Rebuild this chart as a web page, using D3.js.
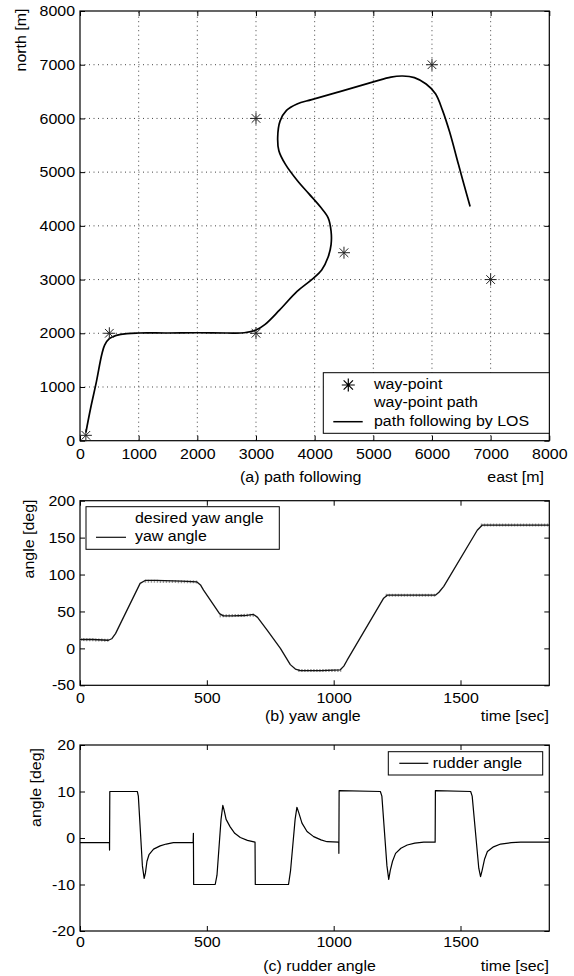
<!DOCTYPE html>
<html>
<head>
<meta charset="utf-8">
<script src="https://cdn.jsdelivr.net/npm/d3@7"></script>
<style>
    body { margin: 0; background: #fff; }
    svg text { font-family: "Liberation Sans", Arial, sans-serif; font-size: 14.5px; fill: #000; }
</style>
</head>
<body>
<svg id="chart" width="574" height="976"></svg>
<script>

// (a) path following - way-points and LOS track [m]
var wpEast = [100, 500, 3000, 4500, 3000, 6000, 7000];
var wpNorth = [100, 2000, 2000, 3500, 6000, 7000, 3000];

var pathEast = [100, 180, 280, 370, 420, 500, 620, 800, 1000, 1500, 2000, 2500, 2800, 3000, 3150, 3400, 3700, 3950, 4120, 4230,
    4280, 4280, 4230, 4100, 3900, 3700, 3500, 3390, 3370, 3410, 3520, 3700, 3950, 4400, 5000, 5300, 5500, 5700, 5900, 6060,
    6180, 6300, 6450, 6550, 6650];
var pathNorth = [150, 600, 1100, 1600, 1780, 1900, 1960, 1995, 2005, 2005, 2010, 2005, 2010, 2060, 2160, 2430, 2780, 3000, 3180, 3420,
    3650, 3900, 4150, 4350, 4600, 4850, 5150, 5400, 5650, 5950, 6150, 6270, 6350, 6490, 6680, 6770, 6790, 6760, 6640, 6460,
    6150, 5750, 5150, 4750, 4360];

var pathTicks = [0, 1000, 2000, 3000, 4000, 5000, 6000, 7000, 8000];

// (b) yaw angle [deg] vs time [sec]
var yawT = [0, 50, 112, 125, 140, 237, 257, 300, 400, 461, 475, 487, 550, 565, 600, 650, 684, 700, 737, 790,
    829, 849, 869, 950, 1026, 1040, 1053, 1197, 1211, 1300, 1401, 1415, 1434, 1566, 1586, 1700, 1850];
var yawDeg = [12, 12, 11, 13, 20, 88, 92, 92, 91, 90, 86, 79, 47, 44, 44, 44.5, 46, 42, 25, 0,
    -22, -28, -30, -30, -29, -24, -16, 68, 72, 72, 72, 76, 84, 160, 167, 167, 167];

var desT = [0, 115, null, 255, 465, null, 550, 690, null, 860, 1030, null, 1205, 1400, null, 1580, 1850];
var desDeg = [12, 11, null, 91, 90, null, 44, 45, null, -30, -30, null, 72, 72, null, 167, 167];

var yawTicks = [-50, 0, 50, 100, 150, 200];

// (c) rudder angle [deg] vs time [sec]
var rudT = [0, 116, 116.5, 117.5, 226, 230, 246, 253, 258, 264, 272, 290, 316, 340, 368, 446, 447, 448, 533, 540,
    556, 563, 568, 576, 592, 610, 632, 660, 690, 691, 822, 830, 848, 855, 862, 875, 895, 921, 950, 974,
    1020, 1020.5, 1021.5, 1184, 1190, 1210, 1217, 1223, 1232, 1244, 1265, 1290, 1320, 1355, 1400, 1401, 1540, 1546, 1572, 1579,
    1585, 1595, 1606, 1630, 1658, 1700, 1737, 1850];
var rudDeg = [-1, -1, -2.6, 10, 10, 9, -6, -8.7, -7.5, -5, -3.6, -2.4, -1.7, -1.3, -1, -1, 1, -10, -10, -8,
    4, 7, 6, 4, 2.4, 1, 0.1, -0.5, -0.9, -10, -10, -7, 4, 6.6, 5.5, 3.2, 1.4, 0.3, -0.4, -0.8,
    -0.9, -3.3, 10.2, 10, 9, -6, -8.9, -7, -5, -3.3, -2.2, -1.5, -1.1, -0.9, -0.9, 10.2, 10, 9, -6.5, -8.3,
    -7, -4.5, -2.9, -1.9, -1.3, -1, -0.9, -0.9];

var rudTicks = [-20, -10, 0, 10, 20];
var timeTicks = [0, 500, 1000, 1500];

var SX = 1.1; // the scanned lettering is a bit wider than Arial

var svg = d3.select("#chart");

function zip(a, b) {
    var out = [];
    for (var i = 0; i < a.length; i++) {
        out.push([a[i], b[i]]);
    }
    return out;
}

function star(cx, cy, r) {
    var d = r * 0.72;
    return "M" + (cx - r) + "," + cy + "h" + (2 * r) +
        "M" + cx + "," + (cy - r) + "v" + (2 * r) +
        "M" + (cx - d) + "," + (cy - d) + "l" + (2 * d) + "," + (2 * d) +
        "M" + (cx - d) + "," + (cy + d) + "l" + (2 * d) + "," + (-2 * d);
}

function drawAxes(x, y, xt, yt, grid, labOff) {
    var x0 = x.range()[0], x1 = x.range()[1];
    var y0 = y.range()[0], y1 = y.range()[1];
    var fmt = function (d) { return String(d); };

    if (grid) {
        svg.append("g").selectAll("line").data(xt.slice(1, -1)).enter().append("line")
            .attr("x1", function (d) { return x(d); })
            .attr("x2", function (d) { return x(d); })
            .attr("y1", y0).attr("y2", y1)
            .attr("stroke", "#444").attr("stroke-dasharray", "1,3.5");
        svg.append("g").selectAll("line").data(yt.slice(1, -1)).enter().append("line")
            .attr("y1", function (d) { return y(d); })
            .attr("y2", function (d) { return y(d); })
            .attr("x1", x0).attr("x2", x1)
            .attr("stroke", "#444").attr("stroke-dasharray", "1,3.5");
    }

    var gb = svg.append("g").attr("class", "xax").attr("transform", "translate(0," + y0 + ")")
        .call(d3.axisBottom(x).tickValues(xt).tickSize(-5).tickSizeOuter(0).tickFormat(fmt));
    gb.select(".domain").remove();
    gb.selectAll("text").attr("y", labOff).attr("dy", null);

    var gt = svg.append("g").attr("transform", "translate(0," + y1 + ")")
        .call(d3.axisTop(x).tickValues(xt).tickSize(-5).tickSizeOuter(0).tickFormat(""));
    gt.select(".domain").remove();

    var gl = svg.append("g").attr("class", "yax").attr("transform", "translate(" + x0 + ",0)")
        .call(d3.axisLeft(y).tickValues(yt).tickSize(-5).tickSizeOuter(0).tickPadding(5).tickFormat(fmt));
    gl.select(".domain").remove();

    var gr = svg.append("g").attr("transform", "translate(" + x1 + ",0)")
        .call(d3.axisRight(y).tickValues(yt).tickSize(-5).tickSizeOuter(0).tickFormat(""));
    gr.select(".domain").remove();

    svg.append("rect")
        .attr("x", x0).attr("y", y1)
        .attr("width", x1 - x0).attr("height", y0 - y1)
        .attr("fill", "none").attr("stroke", "#000").attr("stroke-width", 1.2);
}

function yLabel(txt, bx, cy) {
    svg.append("text").attr("class", "ylab")
        .attr("text-anchor", "middle")
        .attr("transform", "translate(" + bx + "," + cy + ") rotate(-90) scale(" + SX + ",1)")
        .text(txt);
}

function plainText(txt, px, py, anchor) {
    svg.append("text").attr("x", px).attr("y", py).attr("text-anchor", anchor).text(txt);
}

function legendBox(bx, by, bw, bh) {
    svg.append("rect").attr("x", bx).attr("y", by).attr("width", bw).attr("height", bh)
        .attr("fill", "#fff").attr("stroke", "#000").attr("stroke-width", 1);
}

// ---------- (a) path following ----------
var xa = d3.scaleLinear().domain([0, 8000]).range([80, 549.3]);
var ya = d3.scaleLinear().domain([0, 8000]).range([440.7, 11]);

drawAxes(xa, ya, pathTicks, pathTicks, true, 18.6);

svg.append("path")
    .datum(zip(pathEast, pathNorth))
    .attr("fill", "none").attr("stroke", "#000").attr("stroke-width", 1.7)
    .attr("stroke-linejoin", "round")
    .attr("d", d3.line()
        .x(function (d) { return xa(d[0]); })
        .y(function (d) { return ya(d[1]); })
        .curve(d3.curveCatmullRom.alpha(0.5)));

svg.append("g").selectAll("path").data(zip(wpEast, wpNorth)).enter().append("path")
    .attr("d", function (d) { return star(xa(d[0]), ya(d[1]), 6); })
    .attr("fill", "none").attr("stroke", "#222").attr("stroke-width", 1);

legendBox(323.3, 372.7, 226, 60.6);
svg.append("path").attr("d", star(348.3, 385, 6.5)).attr("fill", "none").attr("stroke", "#000").attr("stroke-width", 1.2);
plainText("way-point", 374, 389, "start");
plainText("way-point path", 374, 407, "start");
svg.append("line").attr("x1", 333.3).attr("x2", 362.7).attr("y1", 421.7).attr("y2", 421.7)
    .attr("stroke", "#000").attr("stroke-width", 1.5);
plainText("path following by LOS", 374, 425.6, "start");

yLabel("north [m]", 25.5, 40);
plainText("(a) path following", 240, 482.5, "start");
plainText("east [m]", 544, 482.5, "end");

// ---------- (b) yaw angle ----------
var xb = d3.scaleLinear().domain([0, 1850]).range([80, 549.3]);
var yb = d3.scaleLinear().domain([-50, 200]).range([685.3, 500.7]);

drawAxes(xb, yb, timeTicks, yawTicks, false, 18);

svg.append("path")
    .datum(zip(desT, desDeg))
    .attr("fill", "none").attr("stroke", "#9a9a9a").attr("stroke-width", 3)
    .attr("stroke-dasharray", "1.5,1.5")
    .attr("d", d3.line()
        .defined(function (d) { return d[0] != null; })
        .x(function (d) { return xb(d[0]); })
        .y(function (d) { return yb(d[1]); }));

svg.append("path")
    .datum(zip(yawT, yawDeg))
    .attr("fill", "none").attr("stroke", "#111").attr("stroke-width", 1.3)
    .attr("stroke-linejoin", "round")
    .attr("d", d3.line()
        .x(function (d) { return xb(d[0]); })
        .y(function (d) { return yb(d[1]); }));

legendBox(86, 506.7, 193.3, 42.6);
plainText("desired yaw angle", 135, 523, "start");
svg.append("line").attr("x1", 96).attr("x2", 126).attr("y1", 537.3).attr("y2", 537.3)
    .attr("stroke", "#111").attr("stroke-width", 1.2);
plainText("yaw angle", 135, 541, "start");

yLabel("angle [deg]", 34, 539);
plainText("(b) yaw angle", 265, 720.6, "start");
plainText("time [sec]", 549, 720.6, "end");

// ---------- (c) rudder angle ----------
var xc = d3.scaleLinear().domain([0, 1850]).range([80, 549.3]);
var yc = d3.scaleLinear().domain([-20, 20]).range([931, 745]);

drawAxes(xc, yc, timeTicks, rudTicks, false, 15.7);

svg.append("path")
    .datum(zip(rudT, rudDeg))
    .attr("fill", "none").attr("stroke", "#000").attr("stroke-width", 1.2)
    .attr("stroke-linejoin", "round")
    .attr("d", d3.line()
        .x(function (d) { return xc(d[0]); })
        .y(function (d) { return yc(d[1]); }));

legendBox(388.3, 751.7, 154.4, 23.3);
svg.append("line").attr("x1", 399.3).attr("x2", 428.3).attr("y1", 763.3).attr("y2", 763.3)
    .attr("stroke", "#000").attr("stroke-width", 1.2);
plainText("rudder angle", 432.7, 768, "start");

yLabel("angle [deg]", 40.5, 787.5);
plainText("(c) rudder angle", 263.3, 971.3, "start");
plainText("time [sec]", 549, 971.3, "end");

// widen all horizontal lettering around its anchor point
svg.selectAll("text:not(.ylab)").each(function () {
    var b = this.getBBox();
    var a = window.getComputedStyle(this).textAnchor;
    var ax = b.x;
    if (a == "end") ax = b.x + b.width;
    else if (a == "middle") ax = b.x + b.width / 2;
    d3.select(this).attr("transform", "translate(" + ax + ",0) scale(" + SX + ",1) translate(" + (-ax) + ",0)");
});

</script>
</body>
</html>
